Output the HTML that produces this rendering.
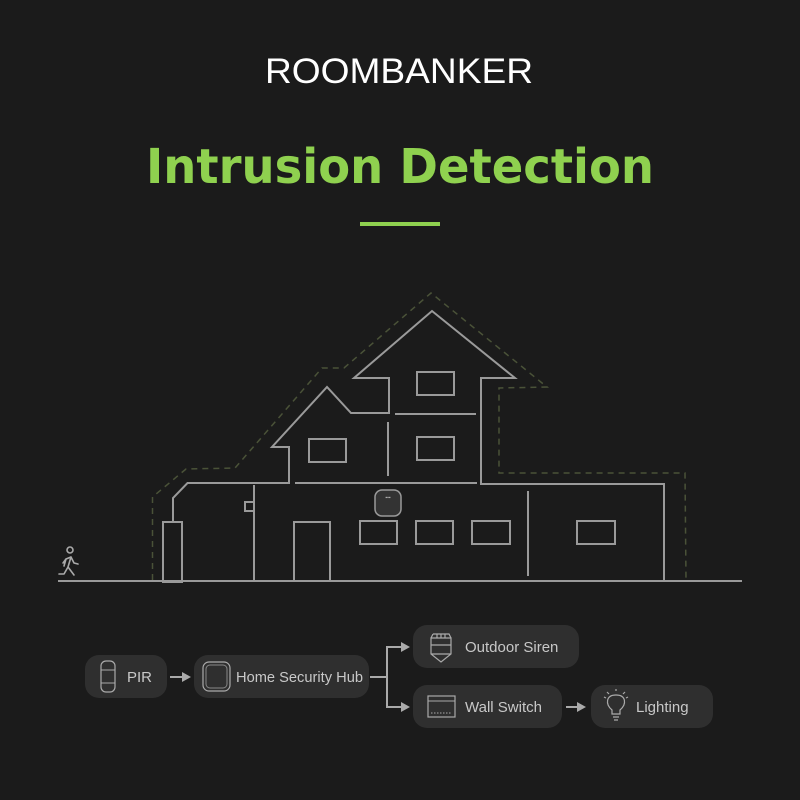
<!DOCTYPE html>
<html><head><meta charset="utf-8"><style>
html,body{margin:0;padding:0;background:#1b1b1b;}
svg{display:block}
</style></head><body>
<svg width="800" height="800" viewBox="0 0 800 800" xmlns="http://www.w3.org/2000/svg">
<rect width="800" height="800" fill="#1b1b1b"/>
<text x="399" y="83" text-anchor="middle" font-family="Liberation Sans, sans-serif" font-size="35" fill="#fff" textLength="268" lengthAdjust="spacingAndGlyphs">ROOMBANKER</text>
<text x="400" y="183" text-anchor="middle" font-family="DejaVu Sans, sans-serif" font-weight="bold" font-size="48" fill="#8fd14f" textLength="508" lengthAdjust="spacingAndGlyphs">Intrusion Detection</text>
<rect x="360" y="222" width="80" height="4" fill="#8fd14f"/>

<polyline points="152.5,580 152.5,497 186,469 235,468 322,368 344,368 431,293 547,387 499,388 499,473 685,473 686,580" fill="none" stroke="#4a5238" stroke-width="1.5" stroke-dasharray="6,5"/>

<g fill="none" stroke="#9a9a9a" stroke-width="2">
<polyline points="173,521 173,498 187.5,483 289,483 289,447 272,447 327,387 351,413 389,413 389,378 354,378 432,311 515,378 481,378 481,484 664,484 664,582"/>
<rect x="163" y="522" width="19" height="60"/>
<line x1="295" y1="483" x2="477" y2="483"/>
<line x1="395" y1="414" x2="476" y2="414"/>
<line x1="388" y1="422" x2="388" y2="476"/>
<rect x="417" y="372" width="37" height="23"/>
<rect x="417" y="437" width="37" height="23"/>
<rect x="309" y="439" width="37" height="23"/>
<rect x="360" y="521" width="37" height="23"/>
<rect x="416" y="521" width="37" height="23"/>
<rect x="472" y="521" width="38" height="23"/>
<rect x="577" y="521" width="38" height="23"/>
<polyline points="294,582 294,522 330,522 330,582"/>
<line x1="254" y1="485" x2="254" y2="582"/>
<rect x="245" y="502" width="9" height="9"/>
<line x1="528" y1="491" x2="528" y2="576"/>
<line x1="58" y1="581" x2="742" y2="581"/>
</g>
<rect x="375" y="490" width="26" height="26" rx="7" fill="#333" stroke="#9a9a9a" stroke-width="1.5"/>
<text x="388" y="499" text-anchor="middle" font-size="5" fill="#bbb" font-family="Liberation Sans, sans-serif">▪▪▪</text>

<g fill="none" stroke="#aaa" stroke-width="1.6" stroke-linecap="round" stroke-linejoin="round">
<circle cx="70" cy="550" r="3"/>
<path d="M64,566 L66,559 L71,557 L74,563 L78,564 M66,559 L63,563 M71,557 L68,567 L74,575 M68,567 L64,574 L59,574"/>
</g>

<g font-family="Liberation Sans, sans-serif" font-size="15" fill="#c8c8c8">
<rect x="85" y="655" width="82" height="43" rx="14" fill="#2f2f2f"/>
<rect x="101" y="661" width="14" height="31" rx="5" fill="none" stroke="#aaa" stroke-width="1.2"/>
<line x1="101" y1="670" x2="115" y2="670" stroke="#aaa" stroke-width="1"/>
<line x1="101" y1="683" x2="115" y2="683" stroke="#aaa" stroke-width="1"/>
<text x="127" y="682">PIR</text>

<rect x="194" y="655" width="175" height="43" rx="14" fill="#2f2f2f"/>
<rect x="203" y="662" width="27" height="29" rx="6" fill="none" stroke="#aaa" stroke-width="1.2"/>
<rect x="206" y="665" width="21" height="23" rx="4" fill="none" stroke="#888" stroke-width="1"/>
<text x="236" y="682" font-size="14.5" textLength="127" lengthAdjust="spacingAndGlyphs">Home Security Hub</text>

<rect x="413" y="625" width="166" height="43" rx="14" fill="#2f2f2f"/>
<path d="M431,638 L431,654 L441,662 L451,654 L451,638 Z M431,645 L451,645 M433,634 L449,634 L451,638 M433,634 L431,638 M437,634 L437,638 M441,634 L441,638 M445,634 L445,638 M431,654 L451,654" fill="none" stroke="#aaa" stroke-width="1.2"/>
<text x="465" y="652">Outdoor Siren</text>

<rect x="413" y="685" width="149" height="43" rx="14" fill="#2f2f2f"/>
<rect x="428" y="696" width="27" height="21" fill="none" stroke="#aaa" stroke-width="1.2"/>
<line x1="428" y1="701" x2="455" y2="701" stroke="#aaa" stroke-width="1"/>
<line x1="431" y1="713" x2="452" y2="713" stroke="#aaa" stroke-width="1" stroke-dasharray="1.5,1.5"/>
<text x="465" y="712">Wall Switch</text>

<rect x="591" y="685" width="122" height="43" rx="14" fill="#2f2f2f"/>
<path d="M612,714 L612,710 C605,704 606,695 616,695 C626,695 627,704 620,710 L620,714 Z M613,717 L619,717 M614,720 L618,720 M607,692 L609,694 M625,692 L623,694 M616,689 L616,691 M604,697 L606,698 M628,697 L626,698" fill="none" stroke="#aaa" stroke-width="1.2"/>
<text x="636" y="712">Lighting</text>
</g>

<g stroke="#aaa" stroke-width="2" fill="none">
<line x1="170" y1="677" x2="183" y2="677"/>
<polyline points="370,677 387,677"/>
<polyline points="402,647 387,647 387,707 402,707"/>
<line x1="566" y1="707" x2="578" y2="707"/>
</g>
<g fill="#aaa">
<polygon points="182,672 191,677 182,682"/>
<polygon points="401,642 410,647 401,652"/>
<polygon points="401,702 410,707 401,712"/>
<polygon points="577,702 586,707 577,712"/>
</g>
</svg>
</body></html>
